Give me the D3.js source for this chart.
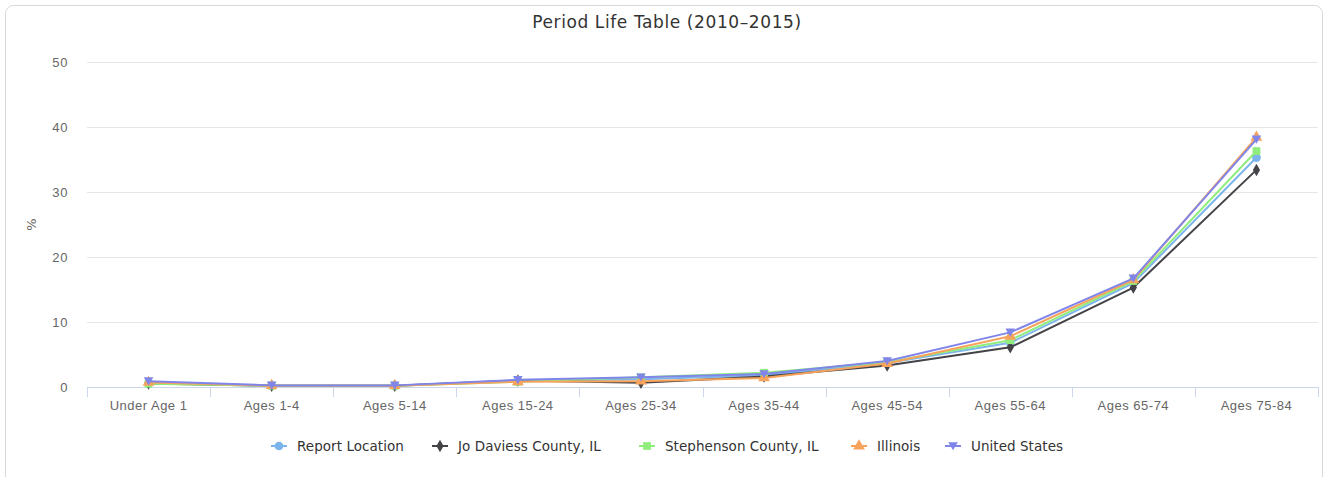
<!DOCTYPE html>
<html>
<head>
<meta charset="utf-8">
<script src="https://cdn.jsdelivr.net/npm/d3@7"></script>
<style>
  html, body { margin: 0; padding: 0; background: #fff; }
  svg { display: block; font-family: "DejaVu Sans", "Lucida Grande", sans-serif; }
</style>
</head>
<body>
<svg id="chart" width="1328" height="477"></svg>
<script>
// Age groups on the x axis
const categories = ["Under Age 1", "Ages 1-4", "Ages 5-14", "Ages 15-24", "Ages 25-34",
  "Ages 35-44", "Ages 45-54", "Ages 55-64", "Ages 65-74", "Ages 75-84"];

// Probability of dying within each age interval (%)
const reportLocation = [0.6, 0.2, 0.2, 0.9, 1.2, 1.8, 3.7, 6.8, 16.0, 35.3];
const joDaviess      = [0.55, 0.2, 0.2, 1.0, 0.65, 1.6, 3.3, 6.1, 15.3, 33.4];
const stephenson     = [0.5, 0.2, 0.2, 0.8, 1.5, 2.2, 3.8, 7.2, 16.3, 36.3];
const illinois       = [0.7, 0.2, 0.2, 0.8, 0.9, 1.4, 3.6, 7.8, 16.5, 38.4];
const unitedStates   = [0.9, 0.25, 0.25, 1.1, 1.5, 2.0, 4.0, 8.4, 16.7, 38.1];

const yTicks = [0, 10, 20, 30, 40, 50];

const series = [
  { name: "Report Location",        values: reportLocation, color: "#7cb5ec", symbol: d3.symbolCircle },
  { name: "Jo Daviess County, IL",  values: joDaviess,      color: "#434348", symbol: d3.symbolDiamond },
  { name: "Stephenson County, IL",  values: stephenson,     color: "#90ed7d", symbol: d3.symbolSquare },
  { name: "Illinois",               values: illinois,       color: "#f7a35c", symbol: d3.symbolTriangle },
  { name: "United States",          values: unitedStates,   color: "#8085e9", symbol: "triangleDown" }
];

const svg = d3.select("#chart");
const W = 1328, H = 477;
const plot = { left: 87, right: 1318, top: 62, bottom: 387 };

// outer frame
svg.append("rect")
  .attr("x", 5.5).attr("y", 5.5)
  .attr("width", W - 11).attr("height", H + 20)
  .attr("rx", 8).attr("ry", 8)
  .attr("fill", "#fff").attr("stroke", "#d9d9d9");

const x = d3.scaleBand().domain(categories).range([plot.left, plot.right]);
const y = d3.scaleLinear().domain([0, 50]).range([plot.bottom, plot.top]);

// title
svg.append("text")
  .attr("x", 667).attr("y", 28)
  .attr("text-anchor", "middle")
  .attr("fill", "#333").attr("font-size", 17).attr("letter-spacing", 0.6)
  .text("Period Life Table (2010\u20132015)");

// horizontal grid + y labels
const yAxis = d3.axisLeft(y).tickValues(yTicks).tickSize(-(plot.right - plot.left)).tickPadding(19);
const gy = svg.append("g").attr("transform", `translate(${plot.left},0)`).call(yAxis);
gy.select(".domain").remove();
gy.selectAll(".tick line").attr("stroke", "#e6e6e6");
gy.selectAll(".tick text").attr("fill", "#666").attr("font-size", 13)
  .attr("letter-spacing", 0.6).attr("font-family", null);

// y axis title
svg.append("text")
  .attr("transform", `translate(36,${(plot.top + plot.bottom) / 2}) rotate(-90)`)
  .attr("text-anchor", "middle")
  .attr("fill", "#666").attr("font-size", 13)
  .text("%");

// x axis with ticks on band edges
const gx = svg.append("g").attr("transform", `translate(0,${plot.bottom})`)
  .call(d3.axisBottom(x).tickSize(0).tickPadding(14));
gx.select(".domain").attr("stroke", "#ccd6eb").attr("d", `M${plot.left},0.5H${plot.right}`);
gx.selectAll(".tick text").attr("fill", "#666").attr("font-size", 13)
  .attr("letter-spacing", 0.5).attr("font-family", null);
const edges = categories.map(c => x(c)).concat([plot.right]);
gx.selectAll("line.edge").data(edges).enter().append("line")
  .attr("class", "edge")
  .attr("x1", d => Math.round(d) + 0.5).attr("x2", d => Math.round(d) + 0.5)
  .attr("y1", 0).attr("y2", 10)
  .attr("stroke", "#ccd6eb");

// symbol path helper
const triDown = {
  draw(ctx, size) {
    const r = Math.sqrt(size) * 0.62;
    ctx.moveTo(-r, -r * 0.8);
    ctx.lineTo(r, -r * 0.8);
    ctx.lineTo(0, r * 0.9);
    ctx.closePath();
  }
};
function symbolPath(s, size) {
  const type = s === "triangleDown" ? triDown : s;
  return d3.symbol().type(type).size(size)();
}

const line = d3.line()
  .x((d, i) => x(categories[i]) + x.bandwidth() / 2)
  .y(d => y(d));

const gs = svg.append("g");
series.forEach(s => {
  const g = gs.append("g");
  g.append("path")
    .attr("d", line(s.values))
    .attr("fill", "none")
    .attr("stroke", s.color)
    .attr("stroke-width", 2)
    .attr("stroke-linejoin", "round");
  g.selectAll("path.pt").data(s.values).enter().append("path")
    .attr("class", "pt")
    .attr("transform", (d, i) => `translate(${x(categories[i]) + x.bandwidth() / 2},${y(d)})`)
    .attr("d", symbolPath(s.symbol, s.symbol === d3.symbolDiamond ? 45 : 60))
    .attr("fill", s.color);
});

// legend
const legendPos = [271, 432, 639, 851, 945];
const lg = svg.append("g").attr("transform", "translate(0,446)");
series.forEach((s, i) => {
  const item = lg.append("g").attr("transform", `translate(${legendPos[i]},0)`);
  item.append("line").attr("x1", 0).attr("x2", 16).attr("y1", 0).attr("y2", 0)
    .attr("stroke", s.color).attr("stroke-width", 2);
  item.append("path").attr("transform", "translate(8,0)")
    .attr("d", symbolPath(s.symbol, s.symbol === d3.symbolDiamond ? 45 : 60))
    .attr("fill", s.color);
  item.append("text").attr("x", 26).attr("y", 5)
    .attr("fill", "#333").attr("font-size", 13.5).attr("letter-spacing", 0.05)
    .text(s.name);
});
</script>
</body>
</html>
